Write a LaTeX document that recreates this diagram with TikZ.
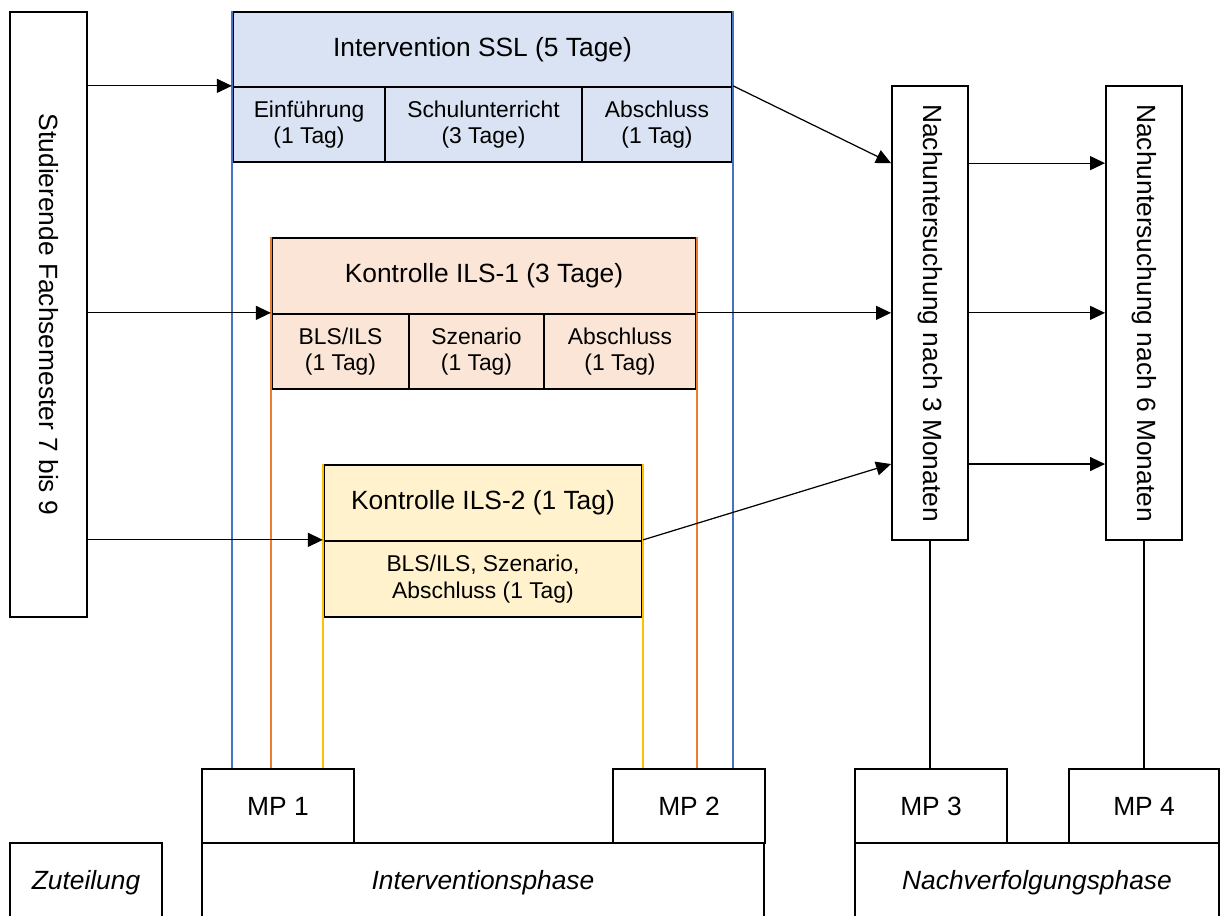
\documentclass[tikz,border=0pt]{standalone}
\usepackage{fontspec}
\setmainfont{Liberation Sans}
\usetikzlibrary{arrows.meta}
\usetikzlibrary{positioning}

\definecolor{sslfill}{HTML}{DAE3F3}
\definecolor{sslline}{HTML}{4472C4}
\definecolor{ilsafill}{HTML}{FBE5D6}
\definecolor{ilsaline}{HTML}{ED7D31}
\definecolor{ilsbfill}{HTML}{FFF2CC}
\definecolor{ilsbline}{HTML}{FFC000}

\begin{document}
\begin{tikzpicture}
    [x=0.02cm,y=-0.02cm,
    box/.style={rectangle,draw=black,line width=1.1pt,inner sep=0pt,
      align=center,font=\fontsize{15}{18}\selectfont},
    cell/.style={box,line width=1.3pt,minimum height=1.5cm,font=\fontsize{13}{15}\selectfont},
    upright/.style={box,rotate=-90,minimum height=1.54cm},
    mp/.style={box,minimum width=3.04cm,minimum height=1.48cm},
    phase/.style={box,minimum height=1.58cm,
      font=\fontsize{15}{18}\selectfont\itshape},
    arr/.style={-{Triangle[length=0.3cm,width=0.28cm]},line width=0.7pt},
    side/.style={line width=1.3pt}]

    \useasboundingbox (0,0) rectangle (1221,916);

    \node (stud)      at (48.5,314.5) [upright,minimum width=12.1cm] {Studierende Fachsemester 7 bis 9};

    \node (sslhead)   at (482.5,49.5) [box,fill=sslfill,minimum width=9.98cm,minimum height=1.5cm] {Intervention SSL (5 Tage)};

    \node (einf)      at (309,124.5)  [cell,fill=sslfill,minimum width=3.04cm] {Einführung\\(1 Tag)};

    \node (schul)     at (483.5,124.5) [cell,fill=sslfill,minimum width=3.94cm] {Schulunterricht\\(3 Tage)};

    \node (abschssl)  at (657,124.5)  [cell,fill=sslfill,minimum width=3cm] {Abschluss\\(1 Tag)};

    \node (ilsahead)  at (484,276)    [box,fill=ilsafill,minimum width=8.48cm,minimum height=1.52cm] {Kontrolle ILS-1 (3 Tage)};

    \node (blsa)      at (340.5,351.5) [cell,fill=ilsafill,minimum width=2.74cm] {BLS/ILS\\(1 Tag)};

    \node (szena)     at (476.5,351.5) [cell,fill=ilsafill,minimum width=2.7cm] {Szenario\\(1 Tag)};

    \node (abschilsa) at (620,351.5)  [cell,fill=ilsafill,minimum width=3.04cm] {Abschluss\\(1 Tag)};

    \node (ilsbhead)  at (483,503)    [box,fill=ilsbfill,minimum width=6.36cm,minimum height=1.52cm] {Kontrolle ILS-2 (1 Tag)};

    \node (ilsbcell)  at (483,579)    [cell,fill=ilsbfill,minimum width=6.36cm,minimum height=1.52cm] {BLS/ILS, Szenario,\\Abschluss (1 Tag)};

    \node (nachdrei)  at (930,313)    [upright,minimum width=9.08cm,minimum height=1.52cm] {Nachuntersuchung nach 3 Monaten};

    \node (nachsechs) at (1144,313)   [upright,minimum width=9.08cm,minimum height=1.52cm] {Nachuntersuchung nach 6 Monaten};

    \node (mpa)       at (278,806)    [mp] {MP 1};

    \node (mpb)       at (689,806)    [mp] {MP 2};

    \node (mpc)       at (931,806)    [mp] {MP 3};

    \node (mpd)       at (1144,806)   [mp,minimum width=3cm] {MP 4};

    \node (zut)       at (86,882.5)   [phase,minimum width=3.04cm] {Zuteilung};

    \node (interv)    at (483,882.5)  [phase,minimum width=11.24cm] {Interventionsphase};

    \node (nachv)     at (1037,882.5) [phase,minimum width=7.28cm] {Nachverfolgungsphase};

    \draw [side,sslline]  (sslhead.north west)  -- (sslhead.north west |- mpa.north);
    \draw [side,sslline]  (sslhead.north east)  -- (sslhead.north east |- mpb.north);
    \draw [side,ilsaline] (ilsahead.north west) -- (ilsahead.north west |- mpa.north);
    \draw [side,ilsaline] (ilsahead.north east) -- (ilsahead.north east |- mpb.north);
    \draw [side,ilsbline] (ilsbhead.north west) -- (ilsbhead.north west |- mpa.north);
    \draw [side,ilsbline] (ilsbhead.north east) -- (ilsbhead.north east |- mpb.north);

    \draw [side] (nachdrei.east)  -- (nachdrei.east |- mpc.north);
    \draw [side] (nachsechs.east) -- (nachsechs.east |- mpd.north);

    \draw [arr] (stud.north |- einf.north west)     -- (einf.north west);
    \draw [arr] (stud.north |- blsa.north west)     -- (blsa.north west);
    \draw [arr] (stud.north |- ilsbcell.north west) -- (ilsbcell.north west);

    \draw [arr] (abschssl.north east)  -- (nachdrei.south |- einf.south);
    \draw [arr] (abschilsa.north east) -- (nachdrei.south |- abschilsa.north);
    \draw [arr] (ilsbcell.north east)  -- (nachdrei.south |- ilsbhead.north);

    \foreach \y in {einf.south,abschilsa.north,ilsbhead.north}
      \draw [arr] (nachdrei.north |- \y) -- (nachsechs.south |- \y);

  \end{tikzpicture}
\end{document}
